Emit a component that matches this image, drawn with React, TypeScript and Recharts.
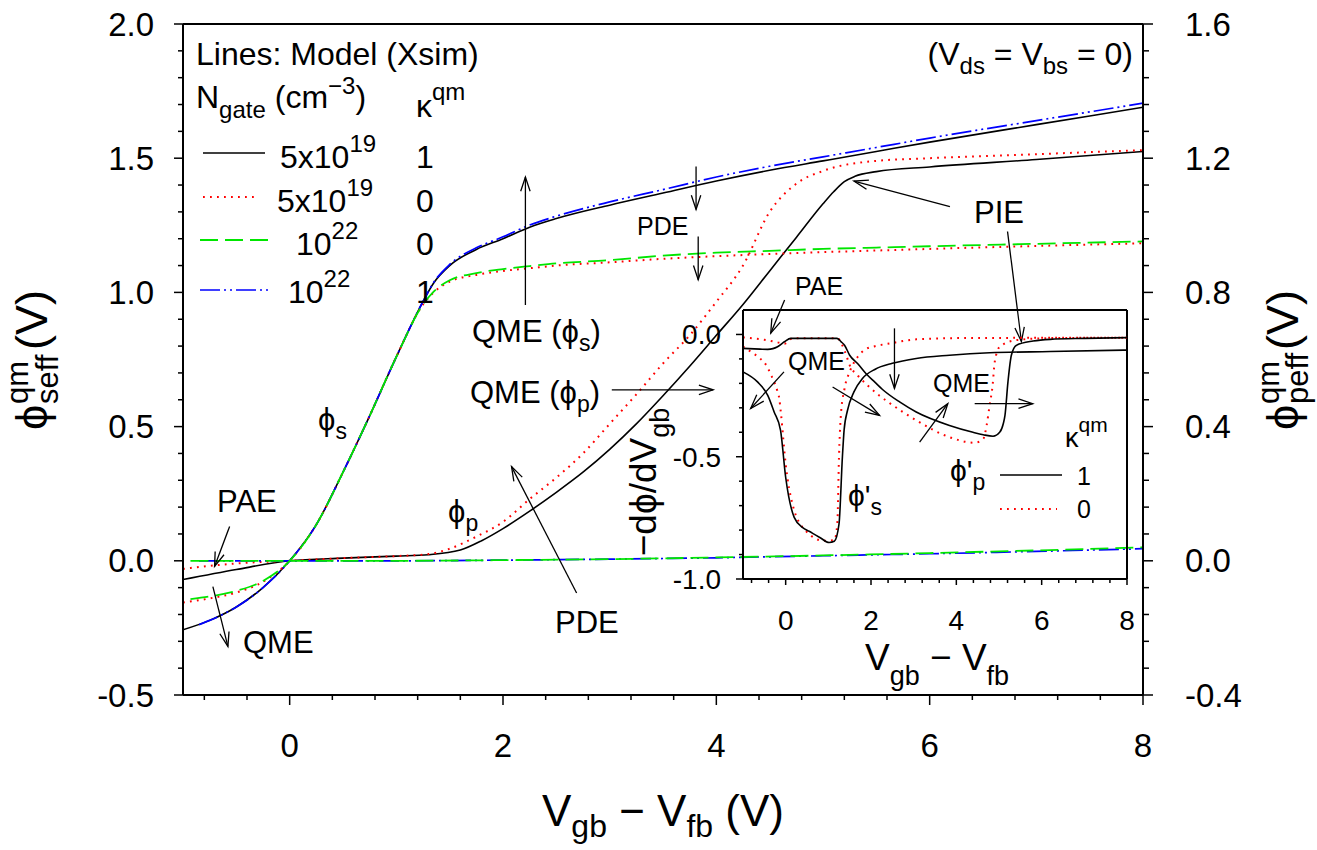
import React from "react";
import { LineChart, Line, XAxis, YAxis, ReferenceLine } from "recharts";

const FONT = '"Liberation Sans", Arial, Helvetica, sans-serif';
const RED = "#ff0000";
const GREEN = "#00e600";
const BLUE = "#0000ff";
const PHI = "\u03D5";

// main axes
const MAIN_X_TICKS = [-0.8, -0.4, 0, 0.4, 0.8, 1.2, 1.6, 2, 2.4, 2.8, 3.2, 3.6, 4, 4.4, 4.8, 5.2, 5.6, 6, 6.4, 6.8, 7.2, 7.6, 8];
const MAIN_X_LABELS = [0, 2, 4, 6, 8];
const LEFT_Y_TICKS = [-0.5, -0.4, -0.3, -0.2, -0.1, 0, 0.1, 0.2, 0.3, 0.4, 0.5, 0.6, 0.7, 0.8, 0.9, 1, 1.1, 1.2, 1.3, 1.4, 1.5, 1.6, 1.7, 1.8, 1.9, 2];
const LEFT_Y_LABELS = [-0.5, 0, 0.5, 1, 1.5, 2];
const RIGHT_Y_TICKS = [-0.4, -0.32, -0.24, -0.16, -0.08, 0, 0.08, 0.16, 0.24, 0.32, 0.4, 0.48, 0.56, 0.64, 0.72, 0.8, 0.88, 0.96, 1.04, 1.12, 1.2, 1.28, 1.36, 1.44, 1.52, 1.6];
const RIGHT_Y_LABELS = [-0.4, 0, 0.4, 0.8, 1.2, 1.6];

// inset axes
const INSET_X_TICKS = MAIN_X_TICKS;
const INSET_X_LABELS = [0, 2, 4, 6, 8];
const INSET_Y_TICKS = [-1, -0.9, -0.8, -0.7, -0.6, -0.5, -0.4, -0.3, -0.2, -0.1, 0];
const INSET_Y_LABELS = [-1, -0.5, 0];

// phi_s (left axis)
const PHIS_X = [-1, -0.75, -0.5, -0.25, 0, 0.25, 0.5, 0.75, 1, 1.25, 1.35, 1.5, 1.75, 2, 2.25, 2.5, 3, 3.5, 4, 4.5, 5, 5.5, 6, 7, 8];
const PHIS_X_BLUE = [-0.85, -0.75, -0.5, -0.25, 0, 0.25, 0.5, 0.75, 1, 1.25, 1.35, 1.5, 1.75, 2, 2.25, 2.5, 3, 3.5, 4, 4.5, 5, 5.5, 6, 7, 8];
const PHIS_X_GREEN = [-0.93, -0.75, -0.5, -0.25, 0, 0.25, 0.5, 0.75, 1, 1.25, 1.35, 1.5, 1.75, 2, 2.25, 2.5, 3, 3.5, 4, 4.5, 5, 5.5, 6, 7, 8];
const PHIS_K1_5E19 = [-0.257, -0.222, -0.172, -0.1, 0, 0.135, 0.33, 0.54, 0.76, 0.966, 1.035, 1.1, 1.16, 1.2, 1.243, 1.275, 1.325, 1.37, 1.415, 1.455, 1.49, 1.525, 1.56, 1.625, 1.69];
const PHIS_K0_5E19 = [-0.155, -0.14, -0.118, -0.078, 0, 0.135, 0.33, 0.54, 0.76, 0.955, 1.0, 1.04, 1.065, 1.08, 1.09, 1.1, 1.112, 1.125, 1.135, 1.143, 1.15, 1.156, 1.162, 1.173, 1.183];
const PHIS_K0_1E22 = [-0.143, -0.133, -0.112, -0.075, 0, 0.135, 0.33, 0.54, 0.76, 0.955, 1.003, 1.045, 1.072, 1.087, 1.098, 1.108, 1.12, 1.137, 1.148, 1.155, 1.162, 1.167, 1.172, 1.181, 1.19];
const PHIS_K1_1E22 = [-0.238, -0.222, -0.172, -0.1, 0, 0.135, 0.33, 0.54, 0.76, 0.966, 1.037, 1.104, 1.166, 1.207, 1.251, 1.284, 1.337, 1.383, 1.43, 1.47, 1.505, 1.54, 1.575, 1.64, 1.705];

// phi_p (right axis)
const PHIP_X_K1 = [-1, -0.5, 0, 0.5, 1, 1.3, 1.6, 1.8, 2, 2.25, 2.5, 2.75, 3, 3.25, 3.5, 3.75, 4, 4.25, 4.5, 4.75, 5, 5.1, 5.2, 5.3, 5.5, 6, 7, 8];
const PHIP_K1_5E19 = [-0.056, -0.026, 0, 0.008, 0.014, 0.018, 0.032, 0.06, 0.096, 0.148, 0.204, 0.264, 0.332, 0.408, 0.492, 0.58, 0.672, 0.764, 0.864, 0.964, 1.064, 1.1, 1.13, 1.146, 1.16, 1.174, 1.196, 1.22];
const PHIP_X_K0 = [-1, -0.5, 0, 0.5, 1, 1.3, 1.5, 1.75, 2, 2.25, 2.5, 2.75, 3, 3.25, 3.5, 3.75, 4, 4.25, 4.5, 4.75, 5, 5.5, 6, 7, 8];
const PHIP_K0_5E19 = [-0.024, -0.008, 0, 0.008, 0.014, 0.02, 0.036, 0.072, 0.116, 0.184, 0.248, 0.32, 0.408, 0.496, 0.588, 0.672, 0.772, 0.88, 1.04, 1.124, 1.162, 1.192, 1.2, 1.212, 1.224];
const PHIP_X_BLUE = [-0.85, 0, 1, 2, 3, 4, 5, 6, 7, 8];
const PHIP_K1_1E22 = [0, 0, 0, 0.002, 0.005, 0.009, 0.015, 0.021, 0.028, 0.036];
const PHIP_X_GREEN = [-0.93, 0, 1, 2, 3, 4, 5, 6, 7, 8];
const PHIP_K0_1E22 = [0, 0, 0, 0.002, 0.005, 0.01, 0.016, 0.023, 0.031, 0.04];

// inset: -dphi/dVgb
const DS_X_K1 = [-1, -0.66, -0.42, -0.27, -0.12, 0, 0.2, 0.4, 0.55, 0.8, 1.02, 1.14, 1.25, 1.33, 1.37, 1.45, 1.6, 1.8, 2.1, 2.5, 3.06, 3.84, 4.78, 6.2, 8];
const DS_K1 = [-0.153, -0.194, -0.249, -0.317, -0.392, -0.584, -0.748, -0.79, -0.805, -0.83, -0.851, -0.846, -0.776, -0.5, -0.39, -0.31, -0.235, -0.18, -0.142, -0.118, -0.098, -0.085, -0.075, -0.07, -0.064];
const DS_X_K0 = [-1, -0.78, -0.6, -0.44, -0.35, -0.27, -0.2, -0.15, -0.11, 0, 0.16, 0.47, 0.9, 1.14, 1.21, 1.25, 1.29, 1.38, 1.5, 1.69, 1.88, 2.09, 2.44, 3.06, 4, 8];
const DS_K0 = [-0.05, -0.075, -0.098, -0.13, -0.163, -0.194, -0.228, -0.262, -0.324, -0.53, -0.694, -0.803, -0.844, -0.841, -0.776, -0.5, -0.338, -0.221, -0.153, -0.091, -0.06, -0.048, -0.037, -0.02, -0.015, -0.013];
const DP_X_K1 = [-1, -0.6, -0.42, -0.3, -0.19, -0.03, 0.12, 1.2, 1.3, 1.38, 1.5, 1.69, 1.88, 2.09, 2.27, 2.67, 3.06, 3.84, 4.39, 4.63, 4.86, 5.02, 5.1, 5.14, 5.21, 5.29, 5.41, 5.8, 6.2, 7, 8];
const DP_K1 = [-0.057, -0.06, -0.061, -0.058, -0.05, -0.03, -0.016, -0.016, -0.03, -0.044, -0.085, -0.12, -0.16, -0.195, -0.225, -0.276, -0.317, -0.372, -0.4, -0.41, -0.416, -0.399, -0.365, -0.331, -0.194, -0.085, -0.044, -0.027, -0.02, -0.016, -0.013];
const DP_X_K0 = [-1, -0.5, -0.2, -0.03, 0.16, 1.22, 1.3, 1.4, 1.5, 1.7, 1.9, 2.16, 2.4, 3.06, 3.84, 4.43, 4.63, 4.71, 4.78, 4.85, 4.9, 5.02, 5.41, 6.2, 8];
const DP_K0 = [-0.012, -0.022, -0.032, -0.038, -0.016, -0.016, -0.035, -0.075, -0.125, -0.17, -0.205, -0.245, -0.276, -0.351, -0.42, -0.443, -0.427, -0.372, -0.29, -0.208, -0.112, -0.05, -0.023, -0.015, -0.013];

const pts = (xs: number[], ys: number[]) => xs.map((x, i) => ({ x, y: ys[i] }));

const fmt = (v: number, d: number) => (Math.abs(v) < 1e-9 ? 0 : v).toFixed(d);

type TickOpts = {
  side: "left" | "right" | "bottom";
  labels: number[];
  digits: number;
  major: number;
  minor: number;
  gap: number;
  size: number;
};

const makeTick = (o: TickOpts) => (props: any) => {
  const { x, y, payload } = props;
  const v = payload.value as number;
  const isMajor = o.labels.some((l) => Math.abs(l - v) < 1e-6);
  const len = isMajor ? o.major : o.minor;
  if (o.side === "bottom") {
    return (
      <g>
        <line x1={x} y1={y} x2={x} y2={y + len} stroke="#000" strokeWidth={1.5} />
        {isMajor && (
          <text x={x} y={y + o.gap} dy="0.35em" textAnchor="middle" fontSize={o.size} fontFamily={FONT} fill="#000">
            {fmt(v, o.digits)}
          </text>
        )}
      </g>
    );
  }
  const dir = o.side === "left" ? -1 : 1;
  return (
    <g>
      <line x1={x} y1={y} x2={x + dir * len} y2={y} stroke="#000" strokeWidth={1.5} />
      {isMajor && (
        <text
          x={x + dir * o.gap}
          y={y}
          dy="0.35em"
          textAnchor={o.side === "left" ? "end" : "start"}
          fontSize={o.size}
          fontFamily={FONT}
          fill="#000"
        >
          {fmt(v, o.digits)}
        </text>
      )}
    </g>
  );
};

// open arrow head drawn at the second point of the segment
const ArrowShape = (p: any) => {
  const { x1, y1, x2, y2 } = p;
  const a = Math.atan2(y2 - y1, x2 - x1);
  const L = 15;
  const w = 0.32;
  const h1 = `${x2 - L * Math.cos(a - w)},${y2 - L * Math.sin(a - w)}`;
  const h2 = `${x2 - L * Math.cos(a + w)},${y2 - L * Math.sin(a + w)}`;
  return (
    <g>
      <line x1={x1} y1={y1} x2={x2} y2={y2} stroke="#000" strokeWidth={1.3} />
      <polyline points={`${h1} ${x2},${y2} ${h2}`} fill="none" stroke="#000" strokeWidth={1.3} />
    </g>
  );
};

// annotation arrows, in axis units
const MAIN_ARROWS = [
  [2.21, 0.953, 2.21, 1.43],
  [3.02, 0.637, 3.97, 0.637],
  [3.81, 1.469, 3.81, 1.309],
  [3.83, 1.208, 3.83, 1.047],
  [6.19, 1.32, 5.29, 1.415],
  [6.73, 1.227, 6.86, 0.817],
  [4.64, 0.972, 4.51, 0.848],
  [-0.563, 0.128, -0.704, -0.021],
  [-0.72, -0.096, -0.579, -0.319],
  [2.69, -0.12, 2.08, 0.351],
];
const INSET_ARROWS = [
  [-0.04, -0.153, -0.82, -0.303],
  [1.1, -0.215, 2.2, -0.331],
  [2.55, 0.025, 2.55, -0.221],
  [3.14, -0.44, 3.8, -0.283],
  [4.43, -0.283, 5.79, -0.283],
];

const STYLE_BLACK = { stroke: "#000", strokeWidth: 1.6 };
const STYLE_RED = { stroke: RED, strokeWidth: 2, strokeDasharray: "1.8 5.2" };
const STYLE_GREEN = { stroke: GREEN, strokeWidth: 1.8, strokeDasharray: "18 7" };
const STYLE_BLUE = { stroke: BLUE, strokeWidth: 1.7, strokeDasharray: "20 4 2 4 2 4" };

const axisLine = { stroke: "#000", strokeWidth: 2 };

export default function App() {
  const series = (
    data: { x: number; y: number }[],
    style: any,
    yAxisId: string | number,
    key: string
  ) => (
    <Line
      key={key}
      data={data}
      dataKey="y"
      yAxisId={yAxisId}
      type="monotone"
      dot={false}
      activeDot={false}
      isAnimationActive={false}
      {...style}
    />
  );

  return (
    <div style={{ position: "absolute", left: 0, top: 0, width: 1317, height: 850, background: "#fff", fontFamily: FONT }}>
      <div style={{ position: "absolute", left: 0, top: 0 }}>
        <LineChart width={1317} height={850} margin={{ top: 24, right: 0, bottom: 0, left: 0 }}>
          <XAxis
            type="number"
            dataKey="x"
            domain={[-1, 8]}
            allowDataOverflow
            ticks={MAIN_X_TICKS}
            interval={0}
            height={155}
            tickSize={0}
            tickMargin={0}
            tickLine={false}
            axisLine={axisLine}
            tick={makeTick({ side: "bottom", labels: MAIN_X_LABELS, digits: 0, major: 10, minor: 5, gap: 50, size: 33 })}
          />
          <YAxis
            yAxisId="left"
            domain={[-0.5, 2]}
            allowDataOverflow
            ticks={LEFT_Y_TICKS}
            interval={0}
            width={183}
            tickSize={0}
            tickMargin={0}
            tickLine={false}
            axisLine={axisLine}
            tick={makeTick({ side: "left", labels: LEFT_Y_LABELS, digits: 1, major: 9, minor: 5, gap: 29, size: 33 })}
          />
          <YAxis
            yAxisId="right"
            orientation="right"
            domain={[-0.4, 1.6]}
            allowDataOverflow
            ticks={RIGHT_Y_TICKS}
            interval={0}
            width={174}
            tickSize={0}
            tickMargin={0}
            tickLine={false}
            axisLine={axisLine}
            tick={makeTick({ side: "right", labels: RIGHT_Y_LABELS, digits: 1, major: 10, minor: 6, gap: 42, size: 33 })}
          />
          <ReferenceLine yAxisId="left" y={2} stroke="#000" strokeWidth={2} />
          {series(pts(PHIS_X, PHIS_K1_5E19), STYLE_BLACK, "left", "s1")}
          {series(pts(PHIP_X_K1, PHIP_K1_5E19), STYLE_BLACK, "right", "p1")}
          {series(pts(PHIS_X, PHIS_K0_5E19), STYLE_RED, "left", "s2")}
          {series(pts(PHIP_X_K0, PHIP_K0_5E19), STYLE_RED, "right", "p2")}
          {series(pts(PHIS_X_BLUE, PHIS_K1_1E22), STYLE_BLUE, "left", "s4")}
          {series(pts(PHIP_X_BLUE, PHIP_K1_1E22), STYLE_BLUE, "right", "p4")}
          {series(pts(PHIS_X_GREEN, PHIS_K0_1E22), STYLE_GREEN, "left", "s3")}
          {series(pts(PHIP_X_GREEN, PHIP_K0_1E22), STYLE_GREEN, "right", "p3")}
          {MAIN_ARROWS.map((a, i) => (
            <ReferenceLine
              key={`ma${i}`}
              yAxisId="left"
              segment={[{ x: a[0], y: a[1] }, { x: a[2], y: a[3] }]}
              ifOverflow="visible"
              shape={ArrowShape}
            />
          ))}
        </LineChart>
      </div>

      <div style={{ position: "absolute", left: 600, top: 300 }}>
        <LineChart width={550} height={400} margin={{ top: 10, right: 23, bottom: 0, left: 0 }}>
          <XAxis
            type="number"
            dataKey="x"
            domain={[-1, 8]}
            allowDataOverflow
            ticks={INSET_X_TICKS}
            interval={0}
            height={121}
            tickSize={0}
            tickMargin={0}
            tickLine={false}
            axisLine={axisLine}
            tick={makeTick({ side: "bottom", labels: INSET_X_LABELS, digits: 0, major: 6, minor: 4, gap: 41, size: 28 })}
          />
          <YAxis
            domain={[-1, 0.1]}
            allowDataOverflow
            ticks={INSET_Y_TICKS}
            interval={0}
            width={143}
            tickSize={0}
            tickMargin={0}
            tickLine={false}
            axisLine={axisLine}
            tick={makeTick({ side: "left", labels: INSET_Y_LABELS, digits: 1, major: 7, minor: 4, gap: 22, size: 28 })}
          />
          <ReferenceLine y={0.1} stroke="#000" strokeWidth={2} />
          <ReferenceLine x={8} stroke="#000" strokeWidth={2} />
          {series(pts(DS_X_K0, DS_K0), STYLE_RED, 0, "ds0")}
          {series(pts(DP_X_K0, DP_K0), STYLE_RED, 0, "dp0")}
          {series(pts(DS_X_K1, DS_K1), STYLE_BLACK, 0, "ds1")}
          {series(pts(DP_X_K1, DP_K1), STYLE_BLACK, 0, "dp1")}
          {INSET_ARROWS.map((a, i) => (
            <ReferenceLine
              key={`ia${i}`}
              segment={[{ x: a[0], y: a[1] }, { x: a[2], y: a[3] }]}
              ifOverflow="visible"
              shape={ArrowShape}
            />
          ))}
        </LineChart>
      </div>

      <svg
        width={1317}
        height={850}
        style={{ position: "absolute", left: 0, top: 0, pointerEvents: "none" }}
        fontFamily={FONT}
        fill="#000"
      >
        {/* legend */}
        <text x={196} y={65} fontSize={32}>Lines: Model (Xsim)</text>
        <text x={196} y={108} fontSize={32}>
          N<tspan fontSize={24} dy={10}>gate</tspan>
          <tspan dy={-10}> (cm</tspan>
          <tspan fontSize={24} dy={-14}>−3</tspan>
          <tspan dy={14}>)</tspan>
        </text>
        <text x={416} y={117} fontSize={32}>
          κ<tspan fontSize={24} dy={-17}>qm</tspan>
        </text>
        <line x1={203} y1={153} x2={265} y2={153} {...STYLE_BLACK} />
        <line x1={203} y1={197} x2={257} y2={197} {...STYLE_RED} />
        <line x1={200} y1={240} x2={268} y2={240} {...STYLE_GREEN} />
        <line x1={200} y1={290} x2={270} y2={290} {...STYLE_BLUE} />
        <text x={280} y={168} fontSize={32}>5x10<tspan fontSize={24} dy={-16}>19</tspan></text>
        <text x={277} y={212} fontSize={32}>5x10<tspan fontSize={24} dy={-16}>19</tspan></text>
        <text x={296} y={255} fontSize={32}>10<tspan fontSize={24} dy={-16}>22</tspan></text>
        <text x={288} y={303} fontSize={32}>10<tspan fontSize={24} dy={-16}>22</tspan></text>
        <text x={416} y={168} fontSize={32}>1</text>
        <text x={416} y={212} fontSize={32}>0</text>
        <text x={416} y={255} fontSize={32}>0</text>
        <text x={416} y={303} fontSize={32}>1</text>

        <text x={1133} y={65} fontSize={32} textAnchor="end">
          (V<tspan fontSize={24} dy={9}>ds</tspan>
          <tspan dy={-9}> = V</tspan>
          <tspan fontSize={24} dy={9}>bs</tspan>
          <tspan dy={-9}> = 0)</tspan>
        </text>

        {/* main annotations */}
        <text x={472} y={342} fontSize={31}>
          QME ({PHI}<tspan fontSize={23} dy={9}>s</tspan>
          <tspan dy={-9}>)</tspan>
        </text>
        <text x={470} y={403} fontSize={31}>
          QME ({PHI}<tspan fontSize={23} dy={9}>p</tspan>
          <tspan dy={-9}>)</tspan>
        </text>
        <text x={637} y={235} fontSize={25}>PDE</text>
        <text x={974} y={223} fontSize={31}>PIE</text>
        <text x={795} y={295} fontSize={25}>PAE</text>
        <text x={217} y={512} fontSize={31}>PAE</text>
        <text x={243} y={653} fontSize={31}>QME</text>
        <text x={555} y={633} fontSize={31}>PDE</text>
        <text x={318} y={430} fontSize={31}>
          {PHI}<tspan fontSize={23} dy={9}>s</tspan>
        </text>
        <text x={448} y={522} fontSize={31}>
          {PHI}<tspan fontSize={23} dy={9}>p</tspan>
        </text>

        {/* inset annotations */}
        <text x={788} y={370} fontSize={25}>QME</text>
        <text x={933} y={392} fontSize={25}>QME</text>
        <text x={848} y={506} fontSize={30}>
          {PHI}'<tspan fontSize={23} dy={9}>s</tspan>
        </text>
        <text x={950} y={481} fontSize={30}>
          {PHI}'<tspan fontSize={23} dy={9}>p</tspan>
        </text>
        <text x={1065} y={447} fontSize={27}>
          κ<tspan fontSize={21} dy={-15}>qm</tspan>
        </text>
        <line x1={1000} y1={475} x2={1062} y2={475} {...STYLE_BLACK} />
        <line x1={1000} y1={509} x2={1057} y2={509} {...STYLE_RED} />
        <text x={1077} y={485} fontSize={25}>1</text>
        <text x={1077} y={518} fontSize={25}>0</text>

        {/* axis titles */}
        <text x={663} y={826} fontSize={44} textAnchor="middle">
          V<tspan fontSize={32} dy={11}>gb</tspan>
          <tspan dy={-11}> − V</tspan>
          <tspan fontSize={32} dy={11}>fb</tspan>
          <tspan dy={-11}> (V)</tspan>
        </text>
        <text x={865} y={670} fontSize={37}>
          V<tspan fontSize={27} dy={15}>gb</tspan>
          <tspan dy={-15}> − V</tspan>
          <tspan fontSize={27} dy={15}>fb</tspan>
        </text>
        <text transform="translate(656,482) rotate(-90)" fontSize={37} textAnchor="middle">
          −d{PHI}/dV<tspan fontSize={27} dy={13}>gb</tspan>
        </text>
        <g transform="translate(47,430) rotate(-90)">
          <text x={0} y={0} fontSize={45}>{PHI}</text>
          <text x={26} y={-19} fontSize={31}>qm</text>
          <text x={26} y={11} fontSize={31}>seff</text>
          <text x={80} y={0} fontSize={45}>(V)</text>
        </g>
        <g transform="translate(1298,430) rotate(-90)">
          <text x={0} y={0} fontSize={45}>{PHI}</text>
          <text x={26} y={-19} fontSize={31}>qm</text>
          <text x={26} y={10} fontSize={31}>peff</text>
          <text x={80} y={0} fontSize={45}>(V)</text>
        </g>
      </svg>
    </div>
  );
}
